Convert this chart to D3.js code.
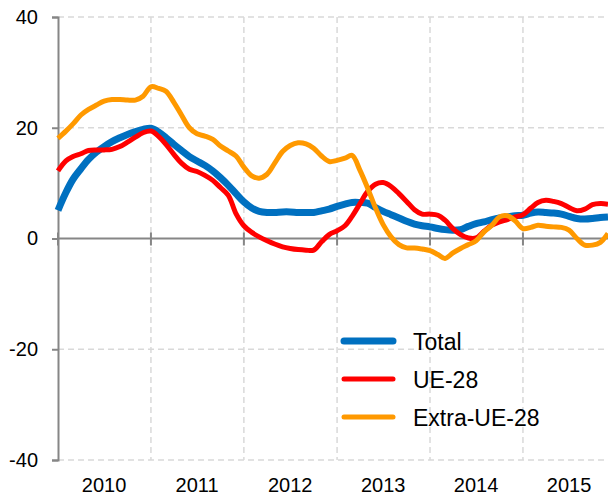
<!DOCTYPE html>
<html>
<head>
<meta charset="utf-8">
<script src="https://cdn.jsdelivr.net/npm/d3@7"></script>
<style>
  body { margin: 0; background: #fff; }
  text { font-family: "Liberation Sans", Arial, sans-serif; fill: #000; }
</style>
</head>
<body>
<svg id="chart" width="608" height="497"></svg>
<script>
// monthly values, Jan 2010 - Dec 2015
let total = [5.1, 8.3, 10.7, 12.6, 14.3, 15.6, 16.6, 17.5, 18.2, 18.8, 19.3, 19.7,
             19.9, 19.2, 18.2, 17.0, 15.9, 14.8, 14.0, 13.2, 12.2, 11.0, 9.6, 8.1,
             6.6, 5.5, 4.9, 4.7, 4.7, 4.8, 4.8, 4.7, 4.7, 4.7, 5.0, 5.3,
             5.8, 6.2, 6.5, 6.5, 6.4, 5.6, 4.9, 4.3, 3.7, 3.1, 2.6, 2.3,
             2.1, 1.8, 1.6, 1.5, 1.6, 2.2, 2.7, 3.0, 3.4, 3.7, 3.9, 4.1,
             4.2, 4.6, 4.8, 4.7, 4.6, 4.4, 4.0, 3.6, 3.5, 3.6, 3.8, 3.9];
let ue28 = [12.2, 14.0, 14.8, 15.3, 15.9, 16.0, 16.0, 16.1, 16.6, 17.4, 18.3, 19.1,
            19.4, 18.4, 17.0, 15.2, 13.6, 12.5, 12.1, 11.4, 10.5, 9.2, 7.8, 4.5,
            2.3, 1.1, 0.3, -0.4, -1.0, -1.5, -1.8, -2.0, -2.1, -2.1, -0.6, 0.7,
            1.4, 2.3, 4.0, 6.3, 8.5, 9.8, 10.1, 9.4, 8.1, 6.7, 5.2, 4.4,
            4.4, 4.2, 3.3, 1.8, 0.7, 0.1, 0.1, 1.3, 2.4, 3.0, 3.4, 3.9,
            4.3, 5.5, 6.5, 6.9, 6.7, 6.3, 5.6, 5.0, 5.3, 6.1, 6.3, 6.2];
let extraUe28 = [18.1, 19.4, 20.7, 22.3, 23.3, 24.1, 24.8, 25.1, 25.1, 25.0, 25.0, 25.7,
                 27.4, 27.1, 26.6, 24.6, 22.3, 20.0, 18.9, 18.5, 17.9, 16.7, 15.8, 14.9,
                 12.9, 11.3, 10.9, 11.6, 13.6, 15.7, 16.8, 17.3, 17.1, 16.3, 14.9, 13.9,
                 14.1, 14.5, 15.0, 12.3, 9.1, 5.5, 2.5, 0.3, -1.1, -1.7, -1.7, -1.9,
                 -2.2, -2.9, -3.6, -2.6, -1.8, -1.1, -0.4, 1.2, 2.4, 3.9, 4.1, 3.2,
                 1.8, 2.0, 2.4, 2.2, 2.1, 2.0, 1.5, 0.0, -1.2, -1.2, -0.7, 0.9];
let years = [2010, 2011, 2012, 2013, 2014, 2015];
let yTicks = [-40, -20, 0, 20, 40];
let seriesNames = ['Total', 'UE-28', 'Extra-UE-28'];
let colors = ['#0070C0', '#FF0000', '#FF9900'];
let widths = [7, 5, 5];

let months = d3.range(total.length).map(i => new Date(2010, i, 1));

let svg = d3.select('#chart');
let plotLeft = 58, plotRight = 608, plotTop = 17, plotBottom = 460;

let x = d3.scaleTime()
          .domain([months[0], months[months.length - 1]])
          .range([plotLeft, plotRight]);
let y = d3.scaleLinear().domain([-40, 40]).range([plotBottom, plotTop]);

// dashed grid
svg.append('g')
   .selectAll('line')
   .data(yTicks.filter(d => d != 0))
   .enter()
   .append('line')
   .attr('x1', plotLeft).attr('x2', plotRight)
   .attr('y1', d => y(d)).attr('y2', d => y(d))
   .attr('stroke', '#d9d9d9').attr('stroke-width', 1.5)
   .attr('stroke-dasharray', '6,4');

let yearStarts = years.slice(1).map(yr => new Date(yr, 0, 1));
svg.append('g')
   .selectAll('line')
   .data(yearStarts)
   .enter()
   .append('line')
   .attr('x1', d => x(d)).attr('x2', d => x(d))
   .attr('y1', plotTop).attr('y2', plotBottom)
   .attr('stroke', '#d9d9d9').attr('stroke-width', 1.5)
   .attr('stroke-dasharray', '6,4');

// y axis (plain hyphen for negatives)
let yAxis = svg.append('g')
   .attr('transform', 'translate(' + plotLeft + ',0)')
   .call(d3.axisLeft(y).tickValues(yTicks).tickSize(6).tickPadding(14)
           .tickFormat(d => String(d)));
yAxis.select('.domain').attr('stroke', '#868686').attr('stroke-width', 2);
yAxis.selectAll('.tick line').attr('stroke', '#868686').attr('stroke-width', 2);
yAxis.selectAll('.tick text')
     .style('font-family', '"Liberation Sans", Arial, sans-serif')
     .style('font-size', '20px').attr('fill', '#000');

// zero line with year ticks
svg.append('line')
   .attr('x1', plotLeft).attr('x2', plotRight)
   .attr('y1', y(0)).attr('y2', y(0))
   .attr('stroke', '#868686').attr('stroke-width', 2);
svg.append('g')
   .selectAll('line')
   .data(years.map(yr => new Date(yr, 0, 1)))
   .enter()
   .append('line')
   .attr('x1', d => x(d)).attr('x2', d => x(d))
   .attr('y1', y(0) - 6).attr('y2', y(0) + 7)
   .attr('stroke', '#868686').attr('stroke-width', 2);

// year labels
svg.append('g')
   .selectAll('text')
   .data(years)
   .enter()
   .append('text')
   .attr('x', d => x(new Date(d, 6, 1)))
   .attr('y', 492)
   .attr('text-anchor', 'middle')
   .style('font-size', '20px')
   .text(d => d);

// lines
let line = d3.line()
             .x((d, i) => x(months[i]))
             .y(d => y(d))
             .curve(d3.curveCatmullRom.alpha(0.5));

[total, ue28, extraUe28].forEach((s, i) => {
    svg.append('path')
       .datum(s)
       .attr('d', line)
       .attr('fill', 'none')
       .attr('stroke', colors[i])
       .attr('stroke-width', widths[i])
       .attr('stroke-linejoin', 'round')
       .attr('stroke-linecap', 'butt');
});

// legend
let legend = svg.append('g')
   .selectAll('g')
   .data(seriesNames)
   .enter()
   .append('g')
   .attr('transform', (d, i) => 'translate(0,' + (341 + i * 38) + ')');
legend.append('line')
      .attr('x1', 344).attr('x2', 393)
      .attr('stroke', (d, i) => colors[i])
      .attr('stroke-width', (d, i) => widths[i])
      .attr('stroke-linecap', 'round');
legend.append('text')
      .attr('x', 413).attr('y', 9)
      .style('font-size', '23px')
      .text(d => d);
</script>
</body>
</html>
